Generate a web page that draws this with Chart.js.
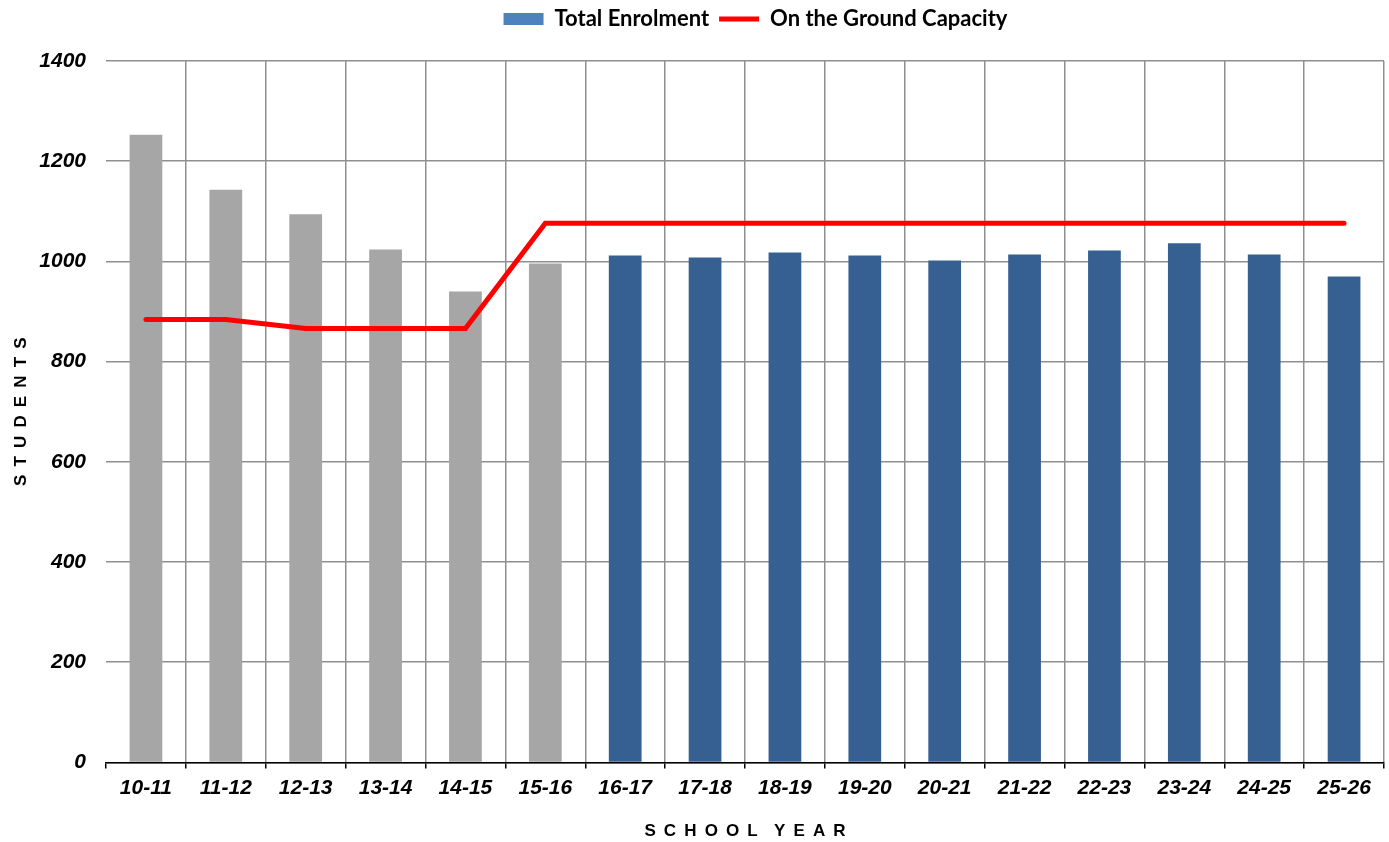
<!DOCTYPE html>
<html>
<head>
<meta charset="utf-8">
<script src="https://cdn.jsdelivr.net/npm/chart.js@4"></script>
<style>
  html, body { margin: 0; padding: 0; background: #fff; }
  #wrap { width: 1389px; height: 842px; }
</style>
</head>
<body>
<div id="wrap"><canvas id="enrolChart"></canvas></div>
<script>
// data dari grafik
const schoolYears = ['10-11', '11-12', '12-13', '13-14', '14-15', '15-16', '16-17', '17-18',
                     '18-19', '19-20', '20-21', '21-22', '22-23', '23-24', '24-25', '25-26'];
const totalEnrolment = [1253, 1143, 1094, 1024, 940, 996, 1012, 1008, 1018, 1012, 1002, 1014, 1022, 1036, 1014, 970];
const groundCapacity = [884, 884, 866, 866, 866, 1076, 1076, 1076, 1076, 1076, 1076, 1076, 1076, 1076, 1076, 1076];
const actualYears = 6; // tahun yang sudah lewat (abu-abu)

const barColors = schoolYears.map((y, i) => i < actualYears ? '#a6a6a6' : '#376092');
const gridGray = '#8f8f8f';
const tickFont = { family: '"Liberation Sans", Arial, sans-serif', size: 21, weight: 'bold', style: 'italic' };
const titleFont = { family: '"Liberation Sans", Arial, sans-serif', size: 17, weight: 'bold' };

// spasi antar huruf untuk judul sumbu
function spaced(txt) {
    return txt.split('').map(ch => ch === ' ' ? '' : ch).join(' \u2009');
}

// geser legenda & beri ruang di bawahnya
const legendTweak = {
    id: 'legendTweak',
    afterInit(chart) {
        const lg = chart.legend;
        const fit = lg.fit;
        lg.fit = function() { fit.call(this); this.height += 19; };
        const draw = lg._draw;
        lg._draw = function() {
            this.ctx.save();
            this.ctx.translate(58, -2);
            draw.call(this);
            this.ctx.restore();
        };
    }
};

document.addEventListener('DOMContentLoaded', function() {
    const ctx = document.getElementById('enrolChart').getContext('2d');
    new Chart(ctx, {
        type: 'bar',
        data: {
            labels: schoolYears,
            datasets: [{
                label: 'Total Enrolment',
                data: totalEnrolment,
                backgroundColor: barColors,
                borderWidth: 0,
                barPercentage: 0.82,
                categoryPercentage: 0.5,
                order: 2
            }, {
                type: 'line',
                label: 'On the Ground Capacity',
                data: groundCapacity,
                borderColor: '#ff0000',
                backgroundColor: '#ff0000',
                borderWidth: 5,
                borderCapStyle: 'round',
                pointRadius: 0,
                tension: 0,
                order: 1
            }]
        },
        plugins: [legendTweak],
        options: {
            responsive: true,
            maintainAspectRatio: false,
            animation: false,
            layout: {
                padding: { left: 11, right: 5, top: 0, bottom: 0 }
            },
            scales: {
                x: {
                    grid: {
                        offset: true,
                        color: c => c.index === 0 ? 'rgba(0,0,0,0)' : gridGray,
                        lineWidth: 1.5,
                        tickColor: '#000',
                        tickLength: 6,
                        drawTicks: true
                    },
                    border: { display: true, color: '#000', width: 1.5 },
                    ticks: { color: '#000', font: tickFont, padding: 7, maxRotation: 0 },
                    title: {
                        display: true,
                        text: spaced('SCHOOL YEAR'),
                        color: '#000',
                        font: titleFont,
                        padding: { top: 14, bottom: 0 }
                    }
                },
                y: {
                    min: 0,
                    max: 1400,
                    afterFit: function(scale) { scale.width = 95; },
                    grid: { color: gridGray, lineWidth: 1.5, drawTicks: false },
                    border: { display: false },
                    ticks: {
                        stepSize: 200, color: '#000', font: tickFont, padding: 20,
                        callback: v => String(v)
                    },
                    title: {
                        display: true,
                        text: spaced('STUDENTS'),
                        color: '#000',
                        font: titleFont,
                        padding: { top: 0, bottom: 14 }
                    }
                }
            },
            plugins: {
                legend: {
                    display: true,
                    position: 'top',
                    labels: {
                        color: '#000',
                        font: { family: 'Lato, "Open Sans", sans-serif', size: 22, weight: 'bold' },
                        usePointStyle: true,
                        boxHeight: 12,
                        pointStyleWidth: 40,
                        padding: 10,
                        generateLabels: function(chart) {
                            const items = Chart.defaults.plugins.legend.labels.generateLabels(chart);
                            items.sort((a, b) => a.datasetIndex - b.datasetIndex);
                            items.forEach(it => {
                                if (it.datasetIndex === 0) {
                                    it.fillStyle = '#4f81bd';
                                    it.strokeStyle = '#4f81bd';
                                    it.lineWidth = 0;
                                    it.pointStyle = 'rect';
                                } else {
                                    it.pointStyle = 'line';
                                    it.lineWidth = 5;
                                }
                            });
                            return items;
                        }
                    }
                },
                tooltip: { enabled: false }
            }
        }
    });
});
</script>
</body>
</html>
